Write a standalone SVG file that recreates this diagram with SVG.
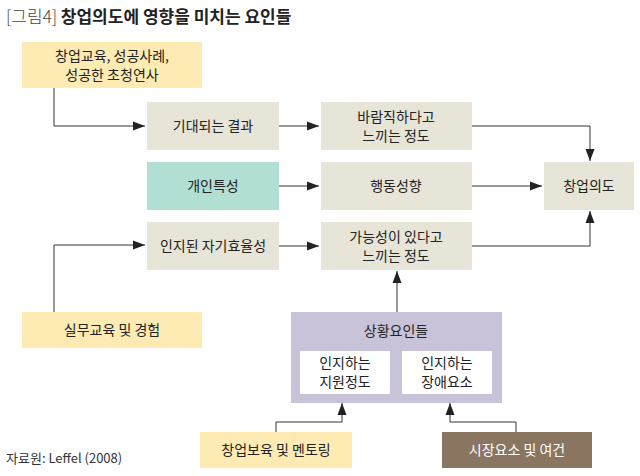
<svg xmlns="http://www.w3.org/2000/svg" width="640" height="476" viewBox="0 0 640 476">
<defs>
<marker id="ah" viewBox="0 0 12 10" refX="12" refY="5" markerWidth="12" markerHeight="10" markerUnits="userSpaceOnUse" orient="auto">
<path d="M0,0.5 L12,5 L0,9.5 z" fill="#222"/>
</marker>
<style>
text{font-family:"Noto Sans CJK KR","Liberation Sans",sans-serif;fill:#222;font-size:14px;text-anchor:middle}
.y{fill:#fdebb3}
.g{fill:#e6e5d7}
.c{stroke:#333;stroke-width:1;fill:none;marker-end:url(#ah)}
</style>
</defs>
<rect width="640" height="476" fill="#fff"/>
<text x="6" y="23" style="text-anchor:start;font-size:17px"><tspan font-weight="300" fill="#444">[그림4] </tspan><tspan font-weight="bold">창업의도에 영향을 미치는 요인들</tspan></text>
<g id="connectors">
<polyline class="c" points="54,88 54,126 145,126"/>
<line class="c" x1="279" y1="126" x2="319" y2="126"/>
<line class="c" x1="279" y1="186" x2="319" y2="186"/>
<line class="c" x1="279" y1="246" x2="319" y2="246"/>
<polyline class="c" points="54,312 54,245 145,245"/>
<polyline class="c" points="472,126 590,126 590,161"/>
<line class="c" x1="472" y1="186" x2="542" y2="186"/>
<polyline class="c" points="472,246 590,246 590,211"/>
<line class="c" x1="397" y1="312" x2="397" y2="271"/>
<polyline class="c" points="276,432 276,422 342,422 342,403"/>
<polyline class="c" points="516,432 516,422 450,422 450,403"/>
</g>
<g id="n1"><rect class="y" x="22" y="42" width="180" height="46"/><text x="112" y="61">창업교육, 성공사례,</text><text x="112" y="80">성공한 초청연사</text></g>
<g id="n2"><rect class="g" x="147" y="102" width="132" height="48"/><text x="213" y="131">기대되는 결과</text></g>
<g id="n3"><rect fill="#b2dfd4" x="147" y="162" width="132" height="48"/><text x="213" y="191">개인특성</text></g>
<g id="n4"><rect class="g" x="147" y="222" width="132" height="48"/><text x="213" y="251">인지된 자기효율성</text></g>
<g id="n5"><rect class="g" x="321" y="102" width="151" height="48"/><text x="396" y="122">바람직하다고</text><text x="396" y="141">느끼는 정도</text></g>
<g id="n6"><rect class="g" x="321" y="162" width="151" height="48"/><text x="396" y="191">행동성향</text></g>
<g id="n7"><rect class="g" x="321" y="222" width="151" height="48"/><text x="396" y="242">가능성이 있다고</text><text x="396" y="261">느끼는 정도</text></g>
<g id="n8"><rect class="g" x="544" y="162" width="90" height="48"/><text x="589" y="191">창업의도</text></g>
<g id="n9"><rect class="y" x="22" y="312" width="180" height="36"/><text x="112" y="335">실무교육 및 경험</text></g>
<g id="n10"><rect fill="#c9c3d9" x="291" y="312" width="211" height="91"/><text x="396" y="336">상황요인들</text>
<rect fill="#fff" x="300" y="351" width="90" height="43"/><text x="345" y="368">인지하는</text><text x="345" y="387">지원정도</text>
<rect fill="#fff" x="402" y="351" width="90" height="43"/><text x="447" y="368">인지하는</text><text x="447" y="387">장애요소</text></g>
<g id="n11"><rect class="y" x="200" y="432" width="152" height="36"/><text x="276" y="455">창업보육 및 멘토링</text></g>
<g id="n12"><rect fill="#8a7560" x="442" y="432" width="150" height="36"/><text x="517" y="455" style="fill:#fff">시장요소 및 여건</text></g>
<text x="6" y="463" style="text-anchor:start;font-size:13px;fill:#333">자료원: Leffel (2008)</text>
</svg>
